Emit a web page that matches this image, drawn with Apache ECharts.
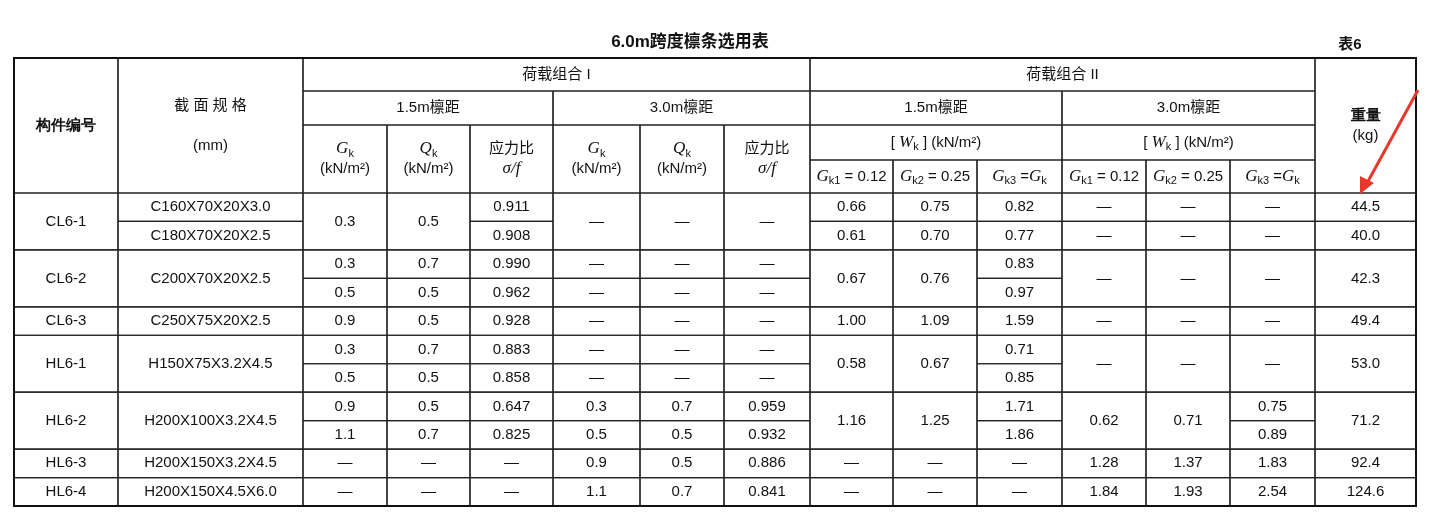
<!DOCTYPE html>
<html><head><meta charset="utf-8">
<script src="https://cdn.jsdelivr.net/npm/echarts@6/dist/echarts.min.js"></script>
<style>html,body{margin:0;background:#fff}#c{width:1431px;height:515px}</style>
</head><body><div id="c"></div>
<script>
const title = "6.0m跨度檩条选用表";
const tableNo = "表6";
const colX = [14,118,303,387,470,553,640,724,810,893,977,1062,1146,1230,1315,1416];
const headY = [58,91,125,160,193];
const rowCount = 11;
const tableBottom = 506;
// "^" = merged with cell above
const rows = [
 ["CL6-1","C160X70X20X3.0","0.3","0.5","0.911","—","—","—","0.66","0.75","0.82","—","—","—","44.5"],
 ["^","C180X70X20X2.5","^","^","0.908","^","^","^","0.61","0.70","0.77","—","—","—","40.0"],
 ["CL6-2","C200X70X20X2.5","0.3","0.7","0.990","—","—","—","0.67","0.76","0.83","—","—","—","42.3"],
 ["^","^","0.5","0.5","0.962","—","—","—","^","^","0.97","^","^","^","^"],
 ["CL6-3","C250X75X20X2.5","0.9","0.5","0.928","—","—","—","1.00","1.09","1.59","—","—","—","49.4"],
 ["HL6-1","H150X75X3.2X4.5","0.3","0.7","0.883","—","—","—","0.58","0.67","0.71","—","—","—","53.0"],
 ["^","^","0.5","0.5","0.858","—","—","—","^","^","0.85","^","^","^","^"],
 ["HL6-2","H200X100X3.2X4.5","0.9","0.5","0.647","0.3","0.7","0.959","1.16","1.25","1.71","0.62","0.71","0.75","71.2"],
 ["^","^","1.1","0.7","0.825","0.5","0.5","0.932","^","^","1.86","^","^","0.89","^"],
 ["HL6-3","H200X150X3.2X4.5","—","—","—","0.9","0.5","0.886","—","—","—","1.28","1.37","1.83","92.4"],
 ["HL6-4","H200X150X4.5X6.0","—","—","—","1.1","0.7","0.841","—","—","—","1.84","1.93","2.54","124.6"]
];
// header cells: [c0,c1,r0,r1,text] (r index into headY)
const G = "{i|G}{s|k}", Q = "{i|Q}{s|k}", U = "(kN/m²)";
const header = [
 [0,0,0,3,"{b|构件编号}"],[1,1,0,3,"截 面 规 格\n\n(mm)"],
 [2,7,0,0,"荷载组合 I"],[8,13,0,0,"荷载组合 II"],[14,14,0,3,"{b|重量}\n(kg)"],
 [2,4,1,1,"1.5m檩距"],[5,7,1,1,"3.0m檩距"],[8,10,1,1,"1.5m檩距"],[11,13,1,1,"3.0m檩距"],
 [2,2,2,3,G+"\n"+U],[3,3,2,3,Q+"\n"+U],[4,4,2,3,"应力比\n{i|σ/f}"],
 [5,5,2,3,G+"\n"+U],[6,6,2,3,Q+"\n"+U],[7,7,2,3,"应力比\n{i|σ/f}"],
 [8,10,2,2,"[ {i|W}{s|k} ] (kN/m²)"],[11,13,2,2,"[ {i|W}{s|k} ] (kN/m²)"],
 [8,8,3,3,"{i|G}{s|k1} = 0.12"],[9,9,3,3,"{i|G}{s|k2} = 0.25"],[10,10,3,3,"{i|G}{s|k3} ={i|G}{s|k}"],
 [11,11,3,3,"{i|G}{s|k1} = 0.12"],[12,12,3,3,"{i|G}{s|k2} = 0.25"],[13,13,3,3,"{i|G}{s|k3} ={i|G}{s|k}"]
];
const F = "'Liberation Sans','Noto Sans CJK SC',sans-serif";
const rich = {i:{fontStyle:'italic',fontFamily:"'Liberation Serif',serif",fontSize:17,fill:'#111'},
 s:{fontSize:11,fontFamily:F,verticalAlign:'bottom',padding:[6,0,0,0],fill:'#111'},
 b:{fontWeight:'bold',fontSize:15,fill:'#111'}};
const els = [];
function line(x1,y1,x2,y2,w){els.push({type:'line',shape:{x1,y1,x2,y2},style:{stroke:'#222',lineWidth:w||1.2}});}
function text(x,y,t,size){els.push({type:'text',x,y,style:{text:t,fill:'#111',font:`${size||15}px ${F}`,align:'center',verticalAlign:'middle',lineHeight:20,rich}});}
function cell(x0,x1,y0,y1,t){
  line(x0,y0,x1,y0);line(x0,y1,x1,y1);line(x0,y0,x0,y1);line(x1,y0,x1,y1);
  text((x0+x1)/2,(y0+y1)/2,t);
}
header.forEach(h=>cell(colX[h[0]],colX[h[1]+1],headY[h[2]],headY[h[3]+1],h[4]));
const rh=(tableBottom-headY[4])/rowCount, rowY=i=>headY[4]+i*rh;
for(let r=0;r<rows.length;r++)for(let c=0;c<15;c++){
  const v=rows[r][c]; if(v==="^")continue;
  let e=r+1; while(e<rows.length&&rows[e][c]==="^")e++;
  cell(colX[c],colX[c+1],rowY(r),rowY(e),v);
}
// outer border
els.push({type:'rect',shape:{x:colX[0],y:headY[0],width:colX[15]-colX[0],height:tableBottom-headY[0]},style:{fill:'none',stroke:'#111',lineWidth:2}});
els.push({type:'text',x:690,y:42,style:{text:title,font:`bold 17px ${F}`,fill:'#111',align:'center',verticalAlign:'middle'}});
els.push({type:'text',x:1350,y:45,style:{text:tableNo,font:`bold 15px ${F}`,fill:'#111',align:'center',verticalAlign:'middle'}});
// red arrow
els.push({type:'line',shape:{x1:1418,y1:90,x2:1366,y2:185},style:{stroke:'#e8382c',lineWidth:3}});
els.push({type:'polygon',shape:{points:[[1360,194],[1360,176],[1374,183]]},style:{fill:'#e8382c'}});
const chart=echarts.init(document.getElementById('c'));
chart.setOption({animation:false,graphic:{elements:els}});
</script></body></html>
